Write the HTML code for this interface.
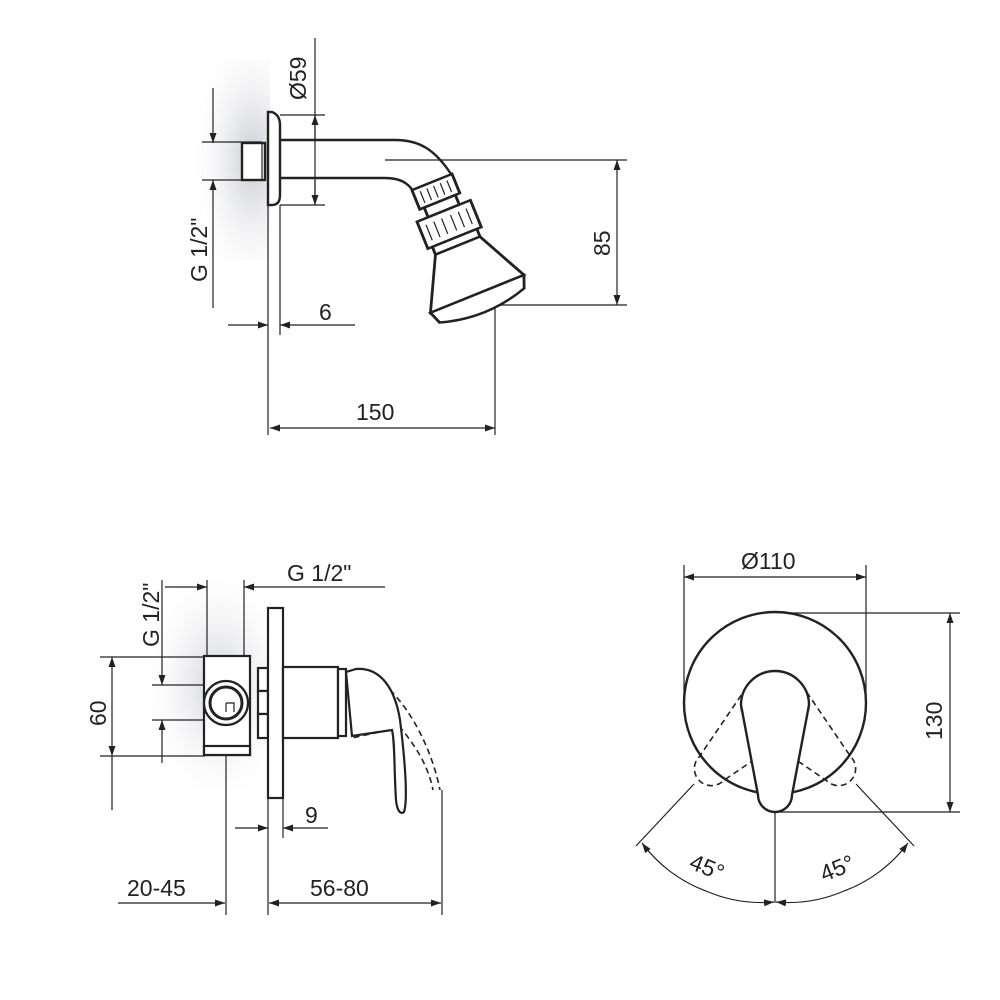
<!DOCTYPE html>
<html><head><meta charset="utf-8"><style>
html,body{margin:0;padding:0;background:#fff;}
svg{display:block;}
text{font-family:"Liberation Sans",sans-serif;fill:#222;font-size:23px;}
</style></head><body>
<svg width="1000" height="1000" viewBox="0 0 1000 1000" xmlns="http://www.w3.org/2000/svg">
<defs>
<radialGradient id="g1" cx="0.8" cy="0.5" r="0.7">
<stop offset="0" stop-color="#c8c9cf"/><stop offset="1" stop-color="#fff" stop-opacity="0"/></radialGradient>
<radialGradient id="g2" cx="0.6" cy="0.5" r="0.6">
<stop offset="0" stop-color="#cfd0d6"/><stop offset="1" stop-color="#fff" stop-opacity="0"/></radialGradient>
<marker id="a" viewBox="0 0 10 10" refX="10" refY="5" markerWidth="10" markerHeight="10" orient="auto-start-reverse" markerUnits="userSpaceOnUse"><path d="M0,1.5 L10,5 L0,8.5 Z" fill="#222"/></marker>
</defs>
<rect x="180" y="60" width="90" height="200" fill="url(#g1)"/>
<rect x="140" y="580" width="130" height="210" fill="url(#g2)"/>

<g fill="none" stroke="#222" stroke-width="1.2">
<line x1="315" y1="38" x2="315" y2="205"/>
<line x1="280" y1="115" x2="325" y2="115"/>
<line x1="280" y1="205" x2="325" y2="205"/>
<line x1="315" y1="140" x2="315" y2="115" marker-end="url(#a)"/>
<line x1="315" y1="180" x2="315" y2="205" marker-end="url(#a)"/>
<line x1="213" y1="88" x2="213" y2="143" marker-end="url(#a)"/>
<line x1="213" y1="308" x2="213" y2="180" marker-end="url(#a)"/>
<line x1="202" y1="142" x2="262" y2="142"/>
<line x1="202" y1="180" x2="262" y2="180"/>
<line x1="385" y1="160" x2="627" y2="160"/>
<line x1="495" y1="305" x2="627" y2="305"/>
<line x1="617" y1="232" x2="617" y2="160" marker-end="url(#a)"/>
<line x1="617" y1="232" x2="617" y2="305" marker-end="url(#a)"/>
<line x1="228" y1="325" x2="268" y2="325" marker-end="url(#a)"/>
<line x1="355" y1="325" x2="280" y2="325" marker-end="url(#a)"/>
<line x1="268" y1="205" x2="268" y2="435"/>
<line x1="280" y1="205" x2="280" y2="335"/>
<line x1="495" y1="305" x2="495" y2="435"/>
<line x1="383" y1="428" x2="270" y2="428" marker-end="url(#a)"/>
<line x1="383" y1="428" x2="495" y2="428" marker-end="url(#a)"/>
</g>

<g fill="#fff" stroke="#222" stroke-width="2.4">
<rect x="242" y="143" width="23" height="37"/>
<line x1="262" y1="143" x2="262" y2="180" stroke-width="1.2"/>
<path d="M268 112 L272 112 Q280 115 280 125 L280 195 Q280 205 272 205 L268 205 Z"/>
<path d="M280 140 H395 C420 140 435 150 451 174 M280 178 H385 C400 178 408 183 413 191" fill="none"/>
<g transform="translate(432,182) rotate(-22) scale(1.2,1.04)">
<rect x="-18" y="0" width="36" height="20"/>
<path d="M-12 4 V16 M-6 4 V16 M0 4 V16 M6 4 V16 M12 4 V16" stroke-width="1"/>
<rect x="-14" y="20" width="28" height="10"/>
<rect x="-24" y="30" width="48" height="28"/>
<path d="M-18 36 V52 M-11 36 V52 M-4 36 V52 M4 36 V52 M11 36 V52 M18 36 V52" stroke-width="1"/>
<rect x="-20" y="58" width="40" height="8"/>
<path d="M-20 66 L20 66 L42 116 L-42 116 Z"/>
<path d="M-42 116 L42 116 L38 128 Q0 142 -38 128 Z"/>
</g>
</g>

<text transform="translate(306,100) rotate(-90)">Ø59</text>
<text transform="translate(207,282) rotate(-90)">G 1/2"</text>
<text transform="translate(610,256) rotate(-90)">85</text>
<text x="319" y="320">6</text>
<text x="356" y="420">150</text>

<g fill="none" stroke="#222" stroke-width="1.2">
<line x1="165" y1="587" x2="207" y2="587" marker-end="url(#a)"/>
<line x1="385" y1="587" x2="244" y2="587" marker-end="url(#a)"/>
<line x1="207" y1="580" x2="207" y2="660"/>
<line x1="244" y1="580" x2="244" y2="660"/>
<line x1="162" y1="580" x2="162" y2="685" marker-end="url(#a)"/>
<line x1="162" y1="763" x2="162" y2="720" marker-end="url(#a)"/>
<line x1="152" y1="685" x2="215" y2="685"/>
<line x1="152" y1="720" x2="215" y2="720"/>
<line x1="100" y1="657" x2="205" y2="657"/>
<line x1="100" y1="756" x2="205" y2="756"/>
<line x1="112" y1="706" x2="112" y2="657" marker-end="url(#a)"/>
<line x1="112" y1="706" x2="112" y2="756" marker-end="url(#a)"/>
<line x1="112" y1="756" x2="112" y2="810"/>
<line x1="235" y1="828" x2="268" y2="828" marker-end="url(#a)"/>
<line x1="328" y1="828" x2="283" y2="828" marker-end="url(#a)"/>
<line x1="283" y1="798" x2="283" y2="838"/>
<line x1="226" y1="702" x2="226" y2="915"/>
<line x1="268" y1="798" x2="268" y2="915"/>
<line x1="442" y1="790" x2="442" y2="915"/>
<line x1="118" y1="903" x2="225" y2="903" marker-end="url(#a)"/>
<line x1="350" y1="903" x2="269" y2="903" marker-end="url(#a)"/>
<line x1="350" y1="903" x2="441" y2="903" marker-end="url(#a)"/>
</g>
<g fill="#fff" stroke="#222" stroke-width="2.2">
<rect x="204" y="656" width="46" height="99"/>
<rect x="204" y="746" width="46" height="9"/>
<circle cx="226" cy="703" r="22"/>
<circle cx="226" cy="703" r="16" stroke-width="3"/>
<path d="M226 703 V712 M226 703 H234 V712" stroke-width="1.2" fill="none"/>
<rect x="258" y="668" width="10" height="23"/>
<rect x="258" y="691" width="10" height="23"/>
<rect x="258" y="714" width="10" height="24"/>
<rect x="268" y="608" width="15" height="190"/>
<rect x="283" y="667" width="55" height="71"/>
<rect x="338" y="669" width="8" height="67"/>
</g>
<g fill="none" stroke="#222" stroke-width="1.6" stroke-dasharray="6,4">
<path d="M390 690 C415 715 433 755 440 790"/>
<path d="M399 726 C415 745 428 765 433 790"/>
<path d="M358 690 L352 738 L398 728"/>
</g>
<path d="M346 672 L356 669 C380 667 395 688 400 720 C405 760 408 800 404 812 C400 815 397 810 396 800 C394 770 395 742 392 730 L352 736 Z" fill="#fff" stroke="#222" stroke-width="2.2"/>

<text x="287" y="581">G 1/2"</text>
<text transform="translate(159,647) rotate(-90)">G 1/2"</text>
<text transform="translate(106,726) rotate(-90)">60</text>
<text x="305" y="823">9</text>
<text x="127" y="896">20-45</text>
<text x="310" y="896">56-80</text>

<g fill="none" stroke="#222" stroke-width="1.2">
<line x1="684" y1="565" x2="684" y2="700"/>
<line x1="866" y1="565" x2="866" y2="710"/>
<line x1="775" y1="577" x2="684" y2="577" marker-end="url(#a)"/>
<line x1="775" y1="577" x2="866" y2="577" marker-end="url(#a)"/>
<line x1="775" y1="613" x2="960" y2="613"/>
<line x1="775" y1="812" x2="960" y2="812"/>
<line x1="950" y1="712" x2="950" y2="613" marker-end="url(#a)"/>
<line x1="950" y1="712" x2="950" y2="812" marker-end="url(#a)"/>
<line x1="775" y1="812" x2="775" y2="903"/>
<line x1="694" y1="784" x2="636" y2="846"/>
<line x1="856" y1="784" x2="914" y2="846"/>
<path d="M706 891 A140 140 0 0 1 642 843" marker-end="url(#a)"/>
<path d="M706 891 A140 140 0 0 0 774 902" marker-end="url(#a)"/>
<path d="M844 891 A140 140 0 0 0 908 843" marker-end="url(#a)"/>
<path d="M844 891 A140 140 0 0 1 776 902" marker-end="url(#a)"/>
</g>
<circle cx="775" cy="703" r="91" fill="#fff" stroke="#222" stroke-width="2.4"/>
<g fill="none" stroke="#222" stroke-width="1.6" stroke-dasharray="6,4">
<path d="M741 705 A34 34 0 0 1 809 705 L792 795 A16 16 0 0 1 758 795 Z" transform="rotate(45 775 705)"/>
<path d="M741 705 A34 34 0 0 1 809 705 L792 795 A16 16 0 0 1 758 795 Z" transform="rotate(-45 775 705)"/>
</g>
<path d="M741 705 A34 34 0 0 1 809 705 L792 795 A16 16 0 0 1 758 795 Z" fill="#fff" stroke="#222" stroke-width="2.4"/>

<text x="741" y="569">Ø110</text>
<text transform="translate(942,740) rotate(-90)">130</text>
<text transform="translate(688,868) rotate(22)" font-size="25">45°</text>
<text transform="translate(824,882) rotate(-22)" font-size="25">45°</text>
</svg>
</body></html>
